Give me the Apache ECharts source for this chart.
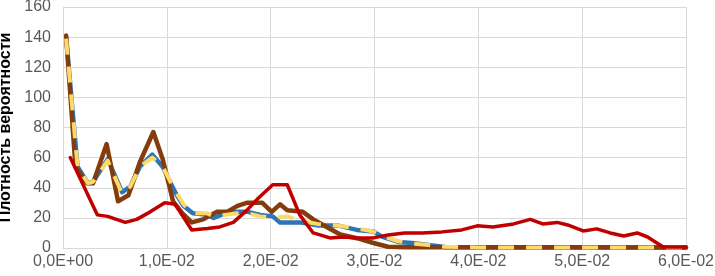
<!DOCTYPE html>
<html>
<head>
<meta charset="utf-8">
<script src="https://cdn.jsdelivr.net/npm/echarts@6/dist/echarts.min.js"></script>
<style>html,body{margin:0;padding:0;background:#fff}#c{width:715px;height:276px}</style>
</head>
<body>
<div id="c"></div>
<script>
var xTickLabels = ['0,0E+00','1,0E-02','2,0E-02','3,0E-02','4,0E-02','5,0E-02','6,0E-02'];
var yAxisTitle = 'Плотность вероятности';

var brownX = [0.0003,0.0012,0.0023,0.0029,0.0042,0.0053,0.0063,0.0074,0.0087,0.0096,0.0106,0.0115,0.0124,0.0135,0.0148,0.0158,0.0168,0.0177,0.0192,0.0201,0.0209,0.0216,0.0231,0.0241,0.0254,0.0267,0.0283,0.0299,0.0313,0.0330,0.0400,0.0500,0.0600];
var brownY = [141,54,43,43,69,31,35,57,77,59,31,23,17,19,24,24,28,30,30,24,29,25,24,19,14,9,6.5,3.3,0.8,0.5,0.5,0.5,0.3];

var blueX = [0.0003,0.0014,0.0024,0.0029,0.0043,0.0057,0.0065,0.0074,0.0086,0.0096,0.0108,0.0116,0.0125,0.0139,0.0145,0.0156,0.0168,0.0178,0.0190,0.0202,0.0209,0.0228,0.0245,0.0264,0.0283,0.0299,0.0307,0.0323,0.0336,0.0352,0.0368,0.0400,0.0500,0.0600];
var blueY = [140,54,43,44,59,37,41,54,62,54,37,28,23,22,20,23,24,24,22,21,17,17,15,15,12,11,7.5,4,3.3,2,0.7,0.3,0.3,0.3];

var yellowX = [0.0003,0.0014,0.0024,0.0029,0.0043,0.0057,0.0065,0.0074,0.0086,0.0096,0.0108,0.0116,0.0125,0.0139,0.0145,0.0156,0.0168,0.0178,0.0190,0.0202,0.0216,0.0228,0.0245,0.0264,0.0283,0.0299,0.0307,0.0323,0.0336,0.0352,0.0368,0.0400,0.0500,0.0600];
var yellowY = [139,54,43,44,58,36,41,54,60,54,38,29,23,23,21,22,23,23,21,20,21,18,16,15,13,11,8,4.5,3,2,0.8,0.4,0.4,0.4];

var redX = [0.0007,0.0033,0.0043,0.0060,0.0071,0.0084,0.0098,0.0108,0.0124,0.0139,0.0151,0.0164,0.0177,0.0188,0.0202,0.0216,0.0228,0.0241,0.0257,0.0270,0.0283,0.0299,0.0313,0.0329,0.0346,0.0365,0.0384,0.0399,0.0414,0.0434,0.0450,0.0462,0.0476,0.0486,0.0501,0.0514,0.0527,0.0540,0.0553,0.0563,0.0578,0.0600];
var redY = [60,22,21,17,19,24,30,29,12,13,14,17,25,33,42,42,22,10,6.7,7.3,6.7,6.7,8.7,10,10,10.7,12,14.7,14,16,19,16,17,15.3,11.3,12.7,10,8,10,7.3,0.7,0.7];

function zip(xs, ys){ return xs.map(function(x,i){ return [x, ys[i]]; }); }

var chart = echarts.init(document.getElementById('c'), null, {renderer:'canvas'});
var fontFam = '"Liberation Sans", Arial, sans-serif';
chart.setOption({
  animation: false,
  backgroundColor: '#ffffff',
  grid: {left: 63, right: 29, top: 7, bottom: 28, containLabel: false, outerBoundsMode: 'none'},
  xAxis: {
    type: 'value', min: 0, max: 0.06, interval: 0.01,
    axisLine: {show: true, lineStyle: {color: '#d9d9d9', width: 1}},
    axisTick: {show: false},
    splitLine: {show: true, lineStyle: {color: '#d9d9d9', width: 1}},
    axisLabel: {
      color: '#595959', fontSize: 16, fontFamily: fontFam, margin: 6,
      hideOverlap: false,
      formatter: function(v){ return xTickLabels[Math.round(v/0.01)]; }
    }
  },
  yAxis: {
    type: 'value', min: 0, max: 160, interval: 20,
    name: yAxisTitle, nameLocation: 'middle', nameGap: 44, nameRotate: 90,
    nameTextStyle: {color: '#000000', fontSize: 16, fontWeight: 'bold', fontFamily: fontFam},
    axisLine: {show: true, lineStyle: {color: '#d9d9d9', width: 1}},
    axisTick: {show: false},
    splitLine: {show: true, lineStyle: {color: '#d9d9d9', width: 1}},
    axisLabel: {color: '#595959', fontSize: 16, fontFamily: fontFam, margin: 12}
  },
  series: [
    {type: 'line', data: zip(blueX, blueY), symbol: 'none', z: 2,
     lineStyle: {color: '#2E75B6', width: 4.5, join: 'round', cap: 'round'}},
    {type: 'line', data: zip(brownX, brownY), symbol: 'none', z: 3,
     lineStyle: {color: '#843C0C', width: 4.5, join: 'round', cap: 'round'}},
    {type: 'line', data: zip(yellowX, yellowY), symbol: 'none', z: 4,
     lineStyle: {color: '#FFD966', width: 4, type: [16, 12], join: 'round'}},
    {type: 'line', data: zip(redX, redY), symbol: 'none', z: 5,
     lineStyle: {color: '#C00000', width: 3.5, join: 'round', cap: 'round'}}
  ]
});
</script>
</body>
</html>
